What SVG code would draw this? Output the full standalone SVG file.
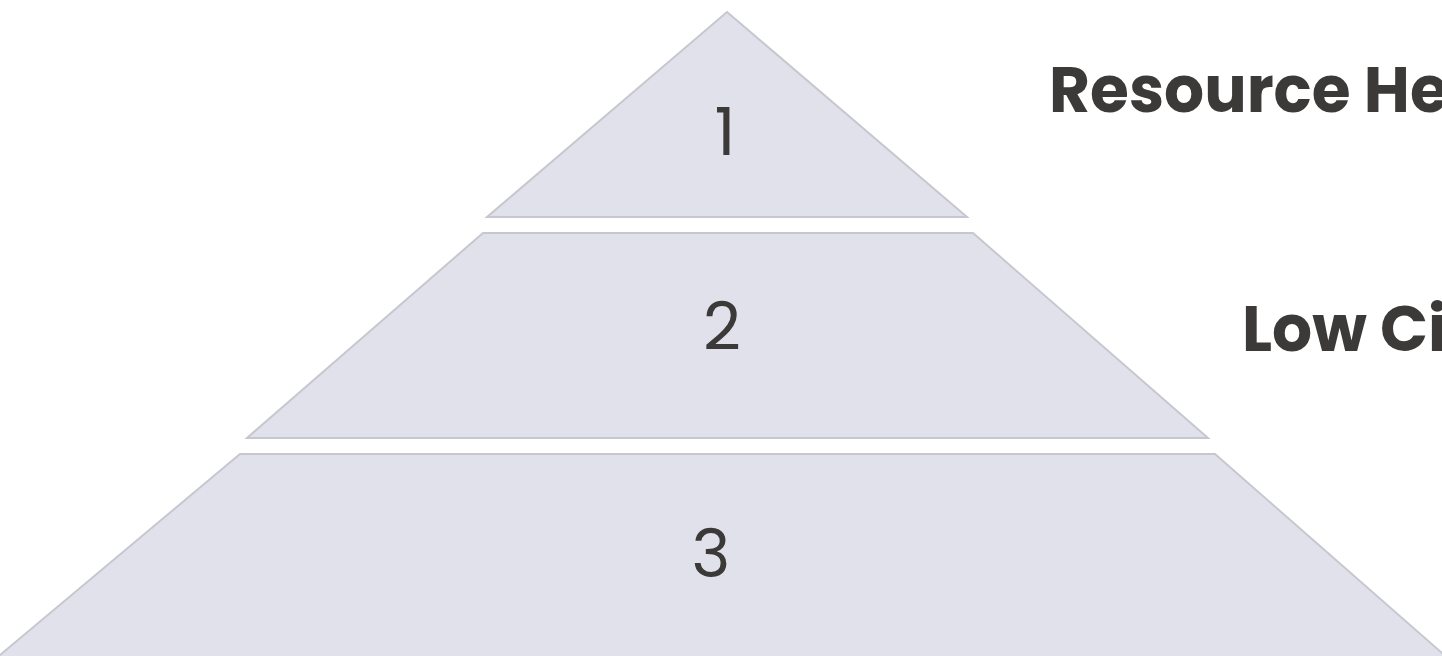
<svg xmlns="http://www.w3.org/2000/svg" width="1442" height="656" viewBox="0 0 1442 656">
<style>
.tier{fill:#e0e1ea;stroke:#c7c8cf;stroke-width:2;stroke-linejoin:miter}
.num{font-family:"Poppins","Open Sans","Noto Sans",sans-serif;font-weight:400;font-size:66px;fill:#3b3a38;text-anchor:middle}
.lbl{font-family:"Poppins","DejaVu Sans","Liberation Sans",sans-serif;font-weight:bold;font-size:63px;fill:#3b3a38}
</style>
<rect width="1442" height="656" fill="#ffffff"/>
<g id="tier1">
<polygon class="tier" points="727,12 967,217 487,217"/>
<text class="num" x="725" y="155">1</text>
</g>
<g id="tier2">
<polygon class="tier" points="483,233 973,233 1208,438 247,438"/>
<text class="num" x="722" y="350">2</text>
</g>
<g id="tier3">
<polygon class="tier" points="240,454 1215,454 1450,660 -6,660"/>
<text class="num" x="711" y="577">3</text>
</g>
<g id="label1">
<text class="lbl" x="1049" y="112">Resource He</text>
</g>
<g id="label2">
<text class="lbl" x="1242" y="351">Low Ci</text>
</g>
<g id="connectors"/>
</svg>
